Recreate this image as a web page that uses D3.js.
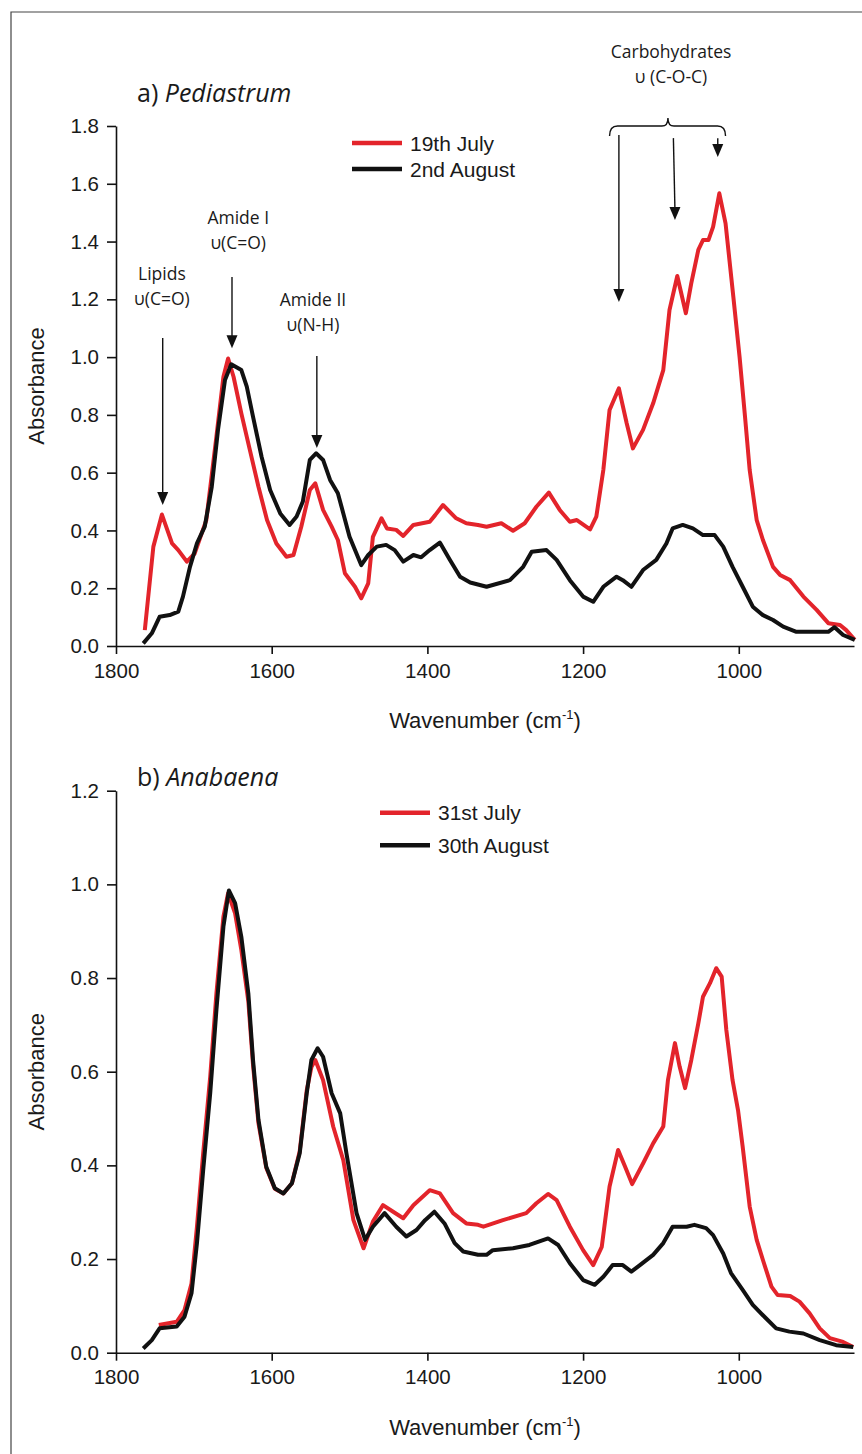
<!DOCTYPE html>
<html>
<head>
<meta charset="utf-8">
<script src="https://cdn.jsdelivr.net/npm/d3@7"></script>
<style>
  body { margin: 0; background: #fff; }
  .tick text { font-family: "Liberation Sans", Arial, sans-serif; font-size: 20.5px; fill: #1a1a1a; }
  .domain, .tick line { stroke: #111; stroke-width: 1.6px; }
</style>
</head>
<body>
<svg id="chart"></svg>
<script>
// ---- data ----
// a) Pediastrum, 19th July
const wnA1 = [1763,1752,1741,1728,1720,1709,1699,1684,1671,1662,1656,1649,1639,1628,1617,1606,1594,1581,1572,1562,1551,1544,1534,1523,1515,1506,1493,1485,1476,1470,1459,1452,1440,1431,1418,1397,1390,1380,1363,1350,1335,1324,1305,1290,1275,1260,1244,1230,1217,1208,1191,1183,1174,1166,1154,1144,1136,1123,1110,1097,1089,1079,1068,1061,1052,1046,1039,1033,1025,1017,1007,999,992,986,977,969,956,947,934,917,900,885,870,862,851]
const absA1 = [0.055,0.344,0.455,0.355,0.332,0.292,0.32,0.436,0.725,0.932,0.995,0.932,0.805,0.678,0.551,0.436,0.355,0.309,0.315,0.413,0.54,0.563,0.471,0.413,0.367,0.252,0.205,0.165,0.217,0.378,0.442,0.407,0.402,0.381,0.419,0.43,0.453,0.488,0.442,0.425,0.419,0.413,0.425,0.399,0.425,0.482,0.531,0.471,0.43,0.436,0.404,0.448,0.609,0.817,0.892,0.771,0.684,0.748,0.84,0.955,1.163,1.281,1.152,1.256,1.371,1.405,1.405,1.451,1.567,1.463,1.209,1.001,0.794,0.609,0.436,0.367,0.274,0.246,0.228,0.171,0.125,0.079,0.073,0.055,0.021]
// a) Pediastrum, 2nd August
const wnA2 = [1765,1754,1744,1731,1720,1714,1705,1696,1686,1677,1669,1660,1652,1639,1632,1624,1613,1602,1589,1577,1568,1560,1551,1543,1534,1525,1515,1508,1500,1485,1476,1465,1453,1442,1431,1418,1408,1397,1384,1371,1358,1345,1324,1294,1277,1266,1247,1234,1217,1200,1187,1174,1157,1149,1138,1123,1106,1093,1085,1072,1059,1046,1031,1020,1008,995,982,969,956,943,926,900,885,877,866,851]
const absA2 = [0.009,0.044,0.101,0.107,0.119,0.171,0.274,0.355,0.413,0.551,0.748,0.921,0.975,0.955,0.898,0.794,0.655,0.54,0.459,0.419,0.448,0.5,0.644,0.667,0.644,0.575,0.529,0.459,0.378,0.28,0.315,0.344,0.35,0.332,0.292,0.315,0.307,0.332,0.358,0.298,0.24,0.22,0.205,0.228,0.274,0.326,0.332,0.298,0.228,0.171,0.153,0.205,0.24,0.228,0.205,0.263,0.298,0.355,0.407,0.419,0.407,0.384,0.384,0.344,0.274,0.205,0.136,0.107,0.09,0.067,0.049,0.049,0.049,0.065,0.038,0.021]
// b) Anabaena, 31st July
const wnB1 = [1745,1722,1712,1703,1696,1688,1679,1671,1662,1656,1647,1639,1630,1624,1617,1607,1596,1585,1574,1564,1555,1549,1544,1534,1521,1508,1495,1482,1470,1457,1444,1431,1418,1397,1384,1367,1350,1335,1328,1303,1273,1260,1245,1234,1217,1200,1187,1176,1166,1155,1146,1137,1123,1110,1097,1091,1082,1076,1069,1061,1052,1046,1037,1029,1022,1016,1008,1001,995,986,977,969,958,950,934,922,909,896,883,866,853]
const absB1 = [0.059,0.066,0.091,0.148,0.269,0.426,0.589,0.767,0.931,0.981,0.938,0.86,0.75,0.615,0.49,0.395,0.35,0.34,0.362,0.43,0.56,0.61,0.625,0.582,0.483,0.411,0.283,0.223,0.28,0.315,0.301,0.287,0.315,0.347,0.34,0.298,0.276,0.273,0.269,0.283,0.298,0.319,0.339,0.326,0.269,0.219,0.187,0.226,0.355,0.433,0.397,0.36,0.404,0.447,0.483,0.582,0.661,0.611,0.565,0.625,0.703,0.76,0.789,0.821,0.803,0.689,0.582,0.518,0.44,0.312,0.241,0.198,0.141,0.123,0.121,0.109,0.084,0.052,0.031,0.023,0.012]
// b) Anabaena, 30th August
const wnB2 = [1765,1754,1744,1722,1712,1703,1696,1688,1679,1671,1662,1655,1647,1639,1630,1624,1617,1607,1596,1585,1574,1564,1555,1549,1541,1534,1523,1512,1504,1491,1480,1470,1455,1440,1427,1414,1403,1391,1378,1365,1354,1335,1324,1316,1290,1269,1245,1232,1217,1200,1185,1174,1162,1149,1138,1127,1110,1097,1085,1067,1057,1042,1033,1020,1010,995,982,969,952,935,917,896,875,853]
const absB2 = [0.009,0.027,0.052,0.056,0.077,0.127,0.234,0.39,0.554,0.732,0.91,0.987,0.96,0.888,0.767,0.625,0.497,0.397,0.351,0.34,0.362,0.426,0.554,0.625,0.65,0.632,0.554,0.511,0.426,0.298,0.241,0.269,0.298,0.269,0.248,0.262,0.283,0.301,0.276,0.234,0.216,0.209,0.209,0.219,0.223,0.23,0.244,0.23,0.191,0.155,0.145,0.162,0.187,0.187,0.173,0.187,0.209,0.234,0.269,0.269,0.273,0.266,0.251,0.212,0.17,0.134,0.102,0.08,0.052,0.045,0.041,0.027,0.016,0.012]

const xTicks = [1800, 1600, 1400, 1200, 1000]
const yTicksA = [0, 0.2, 0.4, 0.6, 0.8, 1.0, 1.2, 1.4, 1.6, 1.8]
const yTicksB = [0, 0.2, 0.4, 0.6, 0.8, 1.0, 1.2]
const legendA = ["19th July", "2nd August"]
const legendB = ["31st July", "30th August"]

// annotations for panel a: arrow wavenumber, tail/tip absorbance, label position
const notes = [
  {lines: ["Lipids", "υ(C=O)"], wn: 1740, tail: 1.066, tip: 0.488, lx: 1741, ly: 1.288},
  {lines: ["Amide I", "υ(C=O)"], wn: 1651, tail: 1.277, tip: 1.031, lx: 1643, ly: 1.481},
  {lines: ["Amide II", "υ(N-H)"], wn: 1542, tail: 1.004, tip: 0.685, lx: 1547, ly: 1.198}
]
const carbArrows = [
  {wn0: 1154, wn1: 1154, tail: 1.769, tip: 1.191},
  {wn0: 1084, wn1: 1082, tail: 1.758, tip: 1.475},
  {wn0: 1027, wn1: 1027, tail: 1.758, tip: 1.693}
]

const RED = "#e3242b", BLACK = "#111"
const W = 862, H = 1454
const svg = d3.select("#chart").attr("width", W).attr("height", H)

// outer frame (left and top edges only visible)
svg.append("path").attr("d", `M11,${H} L11,12 L${W},12`)
  .attr("fill", "none").attr("stroke", "#444").attr("stroke-width", 1.2)

const x = d3.scaleLinear().domain([1800, 852]).range([116, 854])

function panel(cfg) {
  const y = d3.scaleLinear().domain([0, cfg.ymax]).range([cfg.bottom, cfg.top])
  const g = svg.append("g")

  g.append("g").attr("transform", `translate(0,${cfg.bottom})`)
    .call(d3.axisBottom(x).tickValues(xTicks).tickFormat(d3.format("d"))
      .tickSize(8).tickSizeOuter(0).tickPadding(9))
  g.append("g").attr("transform", "translate(116,0)")
    .call(d3.axisLeft(y).tickValues(cfg.yTicks).tickFormat(d3.format(".1f"))
      .tickSize(9).tickSizeOuter(0).tickPadding(8))

  const line = d3.line().x(d => x(d[0])).y(d => y(d[1]))
  cfg.series.forEach(s => {
    g.append("path").datum(d3.zip(s.wn, s.abs))
      .attr("d", line).attr("fill", "none")
      .attr("stroke", s.color).attr("stroke-width", 4)
      .attr("stroke-linejoin", "round")
  })

  // axis titles
  g.append("text").attr("transform", `translate(44,${(cfg.top + cfg.bottom) / 2}) rotate(-90)`)
    .attr("text-anchor", "middle").style("font-family", "Liberation Sans, Arial, sans-serif")
    .style("font-size", "22px").attr("fill", "#1a1a1a").text("Absorbance")
  const xt = g.append("text").attr("x", x(1326)).attr("y", cfg.bottom + 82)
    .attr("text-anchor", "middle").style("font-family", "Liberation Sans, Arial, sans-serif")
    .style("font-size", "22px").attr("fill", "#1a1a1a")
  xt.append("tspan").text("Wavenumber (cm")
  xt.append("tspan").attr("dy", -9).style("font-size", "13px").text("-1")
  xt.append("tspan").attr("dy", 9).text(")")

  // panel title
  const t = g.append("text").attr("x", 137).attr("y", cfg.titleY)
    .style("font-family", "Open Sans, sans-serif").style("font-size", "25px").attr("fill", "#1a1a1a")
  t.append("tspan").text(cfg.tag + " ")
  t.append("tspan").style("font-style", "italic").text(cfg.name)

  // legend
  cfg.legend.forEach((name, i) => {
    const ly = cfg.legY + i * cfg.legGap
    g.append("line").attr("x1", cfg.legX).attr("x2", cfg.legX + 50)
      .attr("y1", ly).attr("y2", ly)
      .attr("stroke", cfg.series[i].color).attr("stroke-width", 4.5)
    g.append("text").attr("x", cfg.legX + 58).attr("y", ly + 7.5)
      .style("font-family", "Liberation Sans, Arial, sans-serif").style("font-size", "21px")
      .attr("fill", "#1a1a1a").text(name)
  })
  return y
}

const yA = panel({
  top: 126, bottom: 646, ymax: 1.8, yTicks: yTicksA, tag: "a)", name: "Pediastrum", titleY: 102,
  legend: legendA, legX: 352, legY: 143, legGap: 26,
  series: [{wn: wnA1, abs: absA1, color: RED}, {wn: wnA2, abs: absA2, color: BLACK}]
})
panel({
  top: 790.7, bottom: 1352.7, ymax: 1.2, yTicks: yTicksB, tag: "b)", name: "Anabaena", titleY: 786,
  legend: legendB, legX: 380, legY: 812.7, legGap: 32.5,
  series: [{wn: wnB1, abs: absB1, color: RED}, {wn: wnB2, abs: absB2, color: BLACK}]
})

// ---- annotations (panel a) ----
const ann = svg.append("g")
function arrow(x0, y0, x1, y1) {
  ann.append("line").attr("x1", x0).attr("y1", y0).attr("x2", x1).attr("y2", y1 - 10)
    .attr("stroke", "#111").attr("stroke-width", 1.4)
  ann.append("path").attr("d", `M${x1 - 5.5},${y1 - 13} L${x1 + 5.5},${y1 - 13} L${x1},${y1} Z`).attr("fill", "#111")
}
function label(lines, cx, cy) {
  lines.forEach((s, i) => {
    ann.append("text").attr("x", cx).attr("y", cy + i * 25 + 6).attr("text-anchor", "middle")
      .style("font-family", "Open Sans, sans-serif").style("font-size", "17.5px")
      .attr("fill", "#1a1a1a").text(s)
  })
}
notes.forEach(n => {
  arrow(x(n.wn), yA(n.tail), x(n.wn), yA(n.tip))
  label(n.lines, x(n.lx), yA(n.ly))
})
label(["Carbohydrates", "υ (C-O-C)"], x(1087), yA(2.056))
carbArrows.forEach(a => arrow(x(a.wn0), yA(a.tail), x(a.wn1), yA(a.tip)))

// curly brace over the carbohydrate arrows
const bl = x(1166), br = x(1017), bm = x(1091)
const by = yA(1.8), bEnd = yA(1.765), bTip = yA(1.828)
ann.append("path")
  .attr("d", `M${bl},${bEnd} Q${bl},${by} ${bl + 8},${by} L${bm - 6},${by} Q${bm},${by} ${bm},${bTip}`
    + ` Q${bm},${by} ${bm + 6},${by} L${br - 8},${by} Q${br},${by} ${br},${bEnd}`)
  .attr("fill", "none").attr("stroke", "#111").attr("stroke-width", 1.4)
</script>
</body>
</html>
